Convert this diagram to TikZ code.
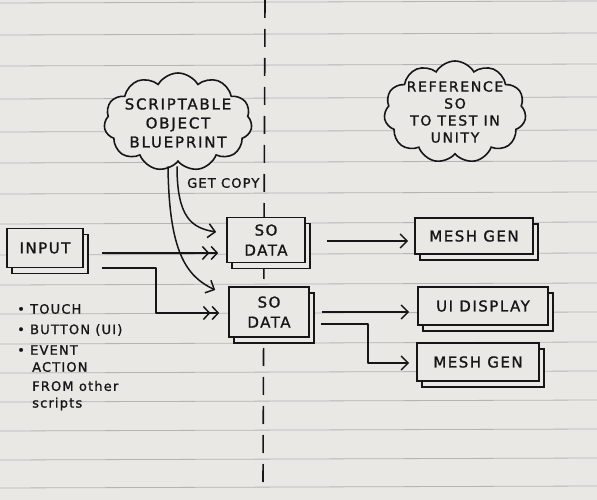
\documentclass[tikz,border=0pt]{standalone}
\usepackage{fontspec}
\newfontfamily\handbox[LetterSpace=10,FakeBold=1.2]{DejaVu Sans}
\newfontfamily\handcloud[LetterSpace=12,FakeBold=1.2]{DejaVu Sans}
\newfontfamily\handlbl[LetterSpace=9,FakeBold=1.2]{DejaVu Sans}
\usetikzlibrary{shapes.symbols,shadows,arrows.meta,calc}
\definecolor{paper}{HTML}{E9E8E5}
\definecolor{rule}{HTML}{B4B4B2}
\definecolor{ink}{HTML}{161616}
\begin{document}
\begin{tikzpicture}[x=1pt,y=-1pt,
  ink/.style={draw=ink,line width=1.6pt},
  sbox/.style={ink,fill=paper,rectangle,inner sep=2pt,align=center,
    font=\handbox\fontsize{15}{20}\selectfont,text=ink,
    copy shadow={shadow xshift=5pt,shadow yshift=-6pt}},
  cloudnode/.style={ink,fill=paper,cloud,cloud puffs=11,cloud puff arc=120,inner sep=0pt},
  cloudtext/.style={align=center,font=\handcloud\fontsize{15}{19}\selectfont,text=ink,inner sep=0pt},
  lbl/.style={font=\handlbl\fontsize{13}{15}\selectfont,text=ink,anchor=west,inner sep=0pt},
  conn/.style={ink,line width=1.5pt,line join=round},
  tip/.style={-{Straight Barb[length=7pt,width=14pt,line width=1.5pt]}},
  dtip/.style={-{Straight Barb[length=6pt,width=13pt,line width=1.5pt,sep=1pt] Straight Barb[length=6pt,width=13pt,line width=1.5pt]}}
]
\useasboundingbox (0,0) rectangle (597,500);
\fill[paper] (0,0) rectangle (597,500);
\foreach \yy in {3,35,66,99,132,163,194,224,255,285,314,344,373,402,431,460,488}
  \draw[rule,line width=0.8pt] (0,\yy) -- (597,\yy-2);
% dashed divider
\draw[ink,line width=1.6pt,dash pattern=on 18pt off 11pt] (265,0) -- (263,482);

% clouds
\node[cloudnode,minimum width=148pt,minimum height=98pt] (bp) at (178,122) {};
\node[cloudtext] (bpt) at ([yshift=-1pt]bp.center) {SCRIPTABLE\\OBJECT\\BLUEPRINT};
\node[cloudnode,minimum width=142pt,minimum height=102pt] (ref) at (455,112) {};
\node[cloudtext,font=\handcloud\fontsize{14}{17}\selectfont] (reft) at (ref.center) {REFERENCE\\SO\\TO TEST IN\\UNITY};

% boxes
\node[sbox,minimum width=76pt,minimum height=39pt] (input) at (45,248) {INPUT};
\node[sbox,minimum width=78pt,minimum height=45pt] (so1) at (266,240) {SO\\DATA};
\node[sbox,minimum width=80pt,minimum height=50pt] (so2) at (269,312) {SO\\DATA};
\node[sbox,minimum width=118pt,minimum height=36pt] (mesh1) at (474,236) {MESH GEN};
\node[sbox,minimum width=130pt,minimum height=38pt] (ui) at (483,306) {UI DISPLAY};
\node[sbox,minimum width=122pt,minimum height=38pt] (mesh2) at (478,362) {MESH GEN};

% get copy
\node[lbl] (gc) at (187,183) {GET COPY};
\draw[conn,tip] ($(bp.south)+(-1,4)$) .. controls (177,218) and (192,228) .. ($(so1.west)+(-10,-8)$);
\draw[conn,tip] ($(bp.south)+(-10,4)$) .. controls (169,252) and (186,276) .. ($(so2.west)+(-13,-22)$);

% connectors
\draw[conn,dtip] ($(input.east)+(18,5)$) -- ($(so1.west)+(-8,13)$);
\draw[conn,dtip] ($(input.east)+(18,20)$) -- ++(54,0) |- ($(so2.west)+(-9,1)$);
\draw[conn,tip] ($(so1.east)+(21,1)$) -- ($(mesh1.west)+(-6,5)$);
\draw[conn,tip] ($(so2.east)+(12,0)$) -- ($(ui.west)+(-8,6)$);
\draw[conn,tip] ($(so2.east)+(11,12)$) -- ++(47,0) |- ($(mesh2.west)+(-7,1)$);

% bullets
\node[lbl] (b1) at (17,309) {\textbullet\ TOUCH};
\node[lbl] (b2) at (17,330) {\textbullet\ BUTTON (UI)};
\node[lbl] (b3) at (17,350) {\textbullet\ EVENT};
\node[lbl] (b4) at (32,367) {ACTION};
\node[lbl] (b5) at (32,386) {FROM other};
\node[lbl] (b6) at (32,404) {scripts};
\end{tikzpicture}
\end{document}
